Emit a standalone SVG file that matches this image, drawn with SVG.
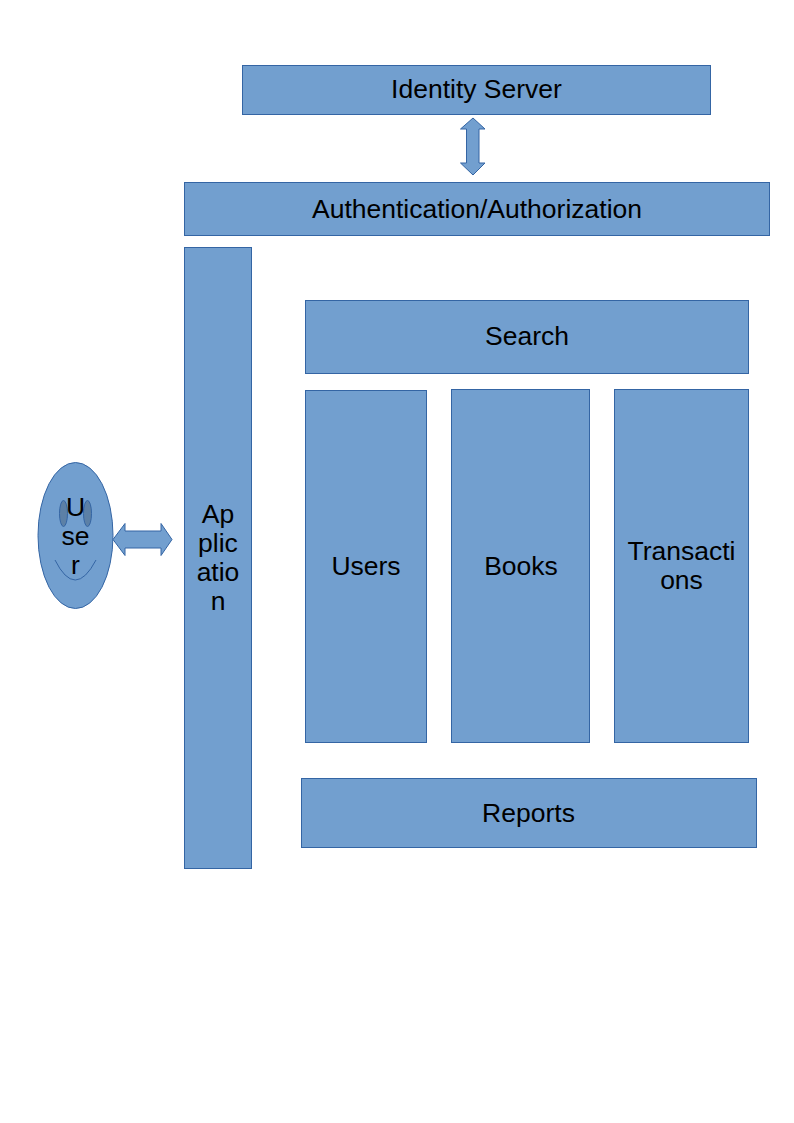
<svg xmlns="http://www.w3.org/2000/svg" width="794" height="1123" viewBox="0 0 794 1123">
<style>
.b{fill:#729fcf;stroke:#3465a4;stroke-width:1}
.t{font-family:"Liberation Sans",Arial,sans-serif;font-size:26.500px;fill:#000;text-anchor:middle}
.l{fill:none;stroke:#3465a4;stroke-width:1}
.e{fill:#5c80a6;stroke:#3465a4;stroke-width:1}
</style>
<rect width="794" height="1123" fill="#fff"/>
<g id="connectors">
<path class="b" d="M473 118L485 129H479V163H485L473 175L460.500 163H466.500V129H460.500Z"/>
<path class="b" d="M113 539.500L125 523.500V531H161V523.500L172 539.500L161 555.500V548H125V555.500Z"/>
</g>
<g id="identity-server"><rect class="b" x="242.500" y="65.500" width="468" height="49"/><text class="t" x="476.500" y="98">Identity Server</text></g>
<g id="authentication"><rect class="b" x="184.500" y="182.500" width="585" height="53"/><text class="t" x="477" y="218">Authentication/Authorization</text></g>
<g id="application"><rect class="b" x="184.500" y="247.500" width="67" height="621"/><text class="t" x="218" y="523">Ap</text><text class="t" x="218" y="552">plic</text><text class="t" x="218" y="581">atio</text><text class="t" x="218" y="610">n</text></g>
<g id="search"><rect class="b" x="305.500" y="300.500" width="443" height="73"/><text class="t" x="527" y="345">Search</text></g>
<g id="users"><rect class="b" x="305.500" y="390.500" width="121" height="352"/><text class="t" x="366" y="575">Users</text></g>
<g id="books"><rect class="b" x="451.500" y="389.500" width="138" height="353"/><text class="t" x="521" y="575">Books</text></g>
<g id="transactions"><rect class="b" x="614.500" y="389.500" width="134" height="353"/><text class="t" x="681.500" y="560">Transacti</text><text class="t" x="681.500" y="589">ons</text></g>
<g id="reports"><rect class="b" x="301.500" y="778.500" width="455" height="69"/><text class="t" x="528.500" y="822">Reports</text></g>
<g id="user">
<ellipse class="b" cx="75.500" cy="535.500" rx="37.500" ry="73"/>
<ellipse class="e" cx="63.500" cy="513.500" rx="4" ry="13"/>
<ellipse class="e" cx="87.500" cy="513.500" rx="4" ry="13"/>
<path class="l" d="M55 560Q75 600 96 560"/>
<text class="t" x="75.500" y="516">U</text><text class="t" x="75.500" y="545">se</text><text class="t" x="75.500" y="574">r</text>
</g>
</svg>
